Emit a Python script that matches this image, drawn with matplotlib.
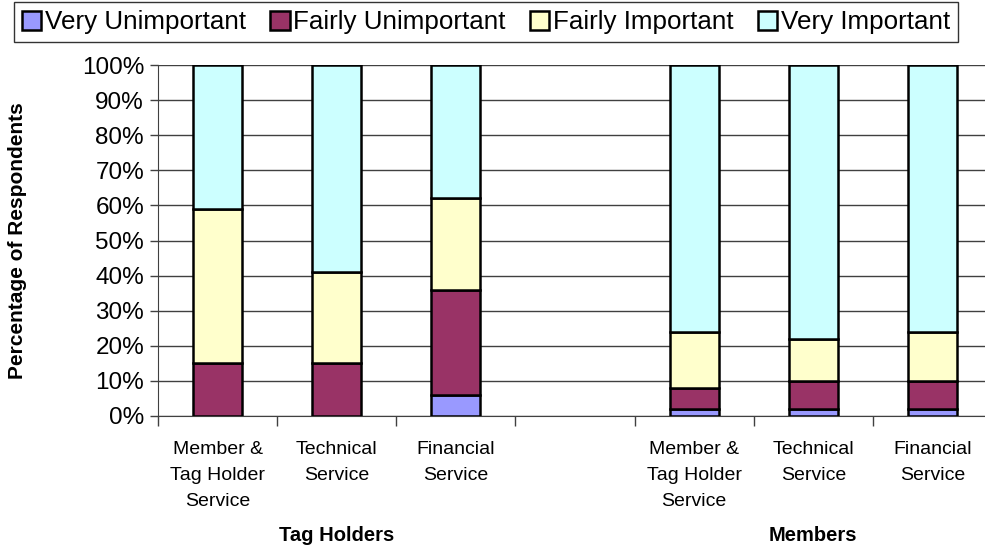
import matplotlib
matplotlib.use("Agg")
import matplotlib.pyplot as plt
from matplotlib.patches import Patch
import numpy as np

plt.rcParams['font.family'] = ['Liberation Sans', 'DejaVu Sans']

categories = ["Member &\nTag Holder\nService", "Technical\nService", "Financial\nService"]
groups = ["Tag Holders", "Members"]
series = ["Very Unimportant", "Fairly Unimportant", "Fairly Important", "Very Important"]
very_unimportant = [0, 0, 6, 2, 2, 2]
fairly_unimportant = [15, 15, 30, 6, 8, 8]
fairly_important = [44, 26, 26, 16, 12, 14]
very_important = [41, 59, 38, 76, 78, 76]
colors = ["#9999FF", "#993366", "#FFFFCC", "#CCFFFF"]
yticks = [0, 10, 20, 30, 40, 50, 60, 70, 80, 90, 100]

values = [very_unimportant, fairly_unimportant, fairly_important, very_important]

fig = plt.figure(figsize=(9.85, 5.49), dpi=100)
W, H = 985, 549
ax = fig.add_axes([158 / W, (H - 416) / H, (992 - 158) / W, (416 - 65) / H])

ncat = len(categories)
slots = ncat * len(groups) + (len(groups) - 1)
pos = []
for g in range(len(groups)):
    for c in range(ncat):
        pos.append(g * (ncat + 1) + c)
pos = np.array(pos, dtype=float)

bottom = np.zeros(len(pos))
for vals, col in zip(values, colors):
    v = np.array(vals, dtype=float)
    ax.bar(pos, v, bottom=bottom, width=0.41, color=col, edgecolor='black',
           linewidth=1.8, zorder=3)
    bottom += v

ax.set_xlim(-0.5, slots - 0.5)
ax.set_ylim(0, 100)
ax.set_yticks(yticks)
ax.set_yticklabels([f"{t}%" for t in yticks], fontsize=17.5)
ax.yaxis.grid(True, color='#404040', linewidth=1.0, zorder=0)
ax.set_axisbelow(True)

ax.set_xticks(np.arange(-0.5, slots, 1.0))
ax.set_xticklabels([])
ax.tick_params(axis='x', length=7, width=1, color='#404040', direction='out')
ax.tick_params(axis='y', length=6, width=1, color='#404040', direction='out', pad=4)

for s in ['top', 'right']:
    ax.spines[s].set_visible(False)
ax.spines['left'].set_color('#404040')
ax.spines['bottom'].set_color('#404040')

for p, i in zip(pos, range(len(pos))):
    ax.text(p, -0.07, categories[i % ncat], transform=ax.get_xaxis_transform(),
            ha='center', va='top', fontsize=14, linespacing=1.7)

for g, name in enumerate(groups):
    center = g * (ncat + 1) + (ncat - 1) / 2
    ax.text(center, -0.313, name, transform=ax.get_xaxis_transform(),
            ha='center', va='top', fontsize=14.5, fontweight='bold')

ax.set_ylabel("Percentage of Respondents", fontsize=15, fontweight='bold')
ax.yaxis.set_label_coords((27 - 158) / (992 - 158), 0.5)

handles = [Patch(facecolor=c, edgecolor='black', linewidth=1.8) for c in colors]
leg = fig.legend(handles, series, loc='lower left',
                 bbox_to_anchor=(14 / W, 1 - 42 / H, 944 / W, 39 / H), mode='expand',
                 ncol=4, fontsize=18.7, frameon=True, fancybox=False,
                 handlelength=0.75, handleheight=0.75, handletextpad=0.15,
                 columnspacing=0.3, borderpad=0.3, borderaxespad=0)
leg.get_frame().set_edgecolor('black')
leg.get_frame().set_linewidth(1.0)

fig.savefig("out.png", dpi=100)
